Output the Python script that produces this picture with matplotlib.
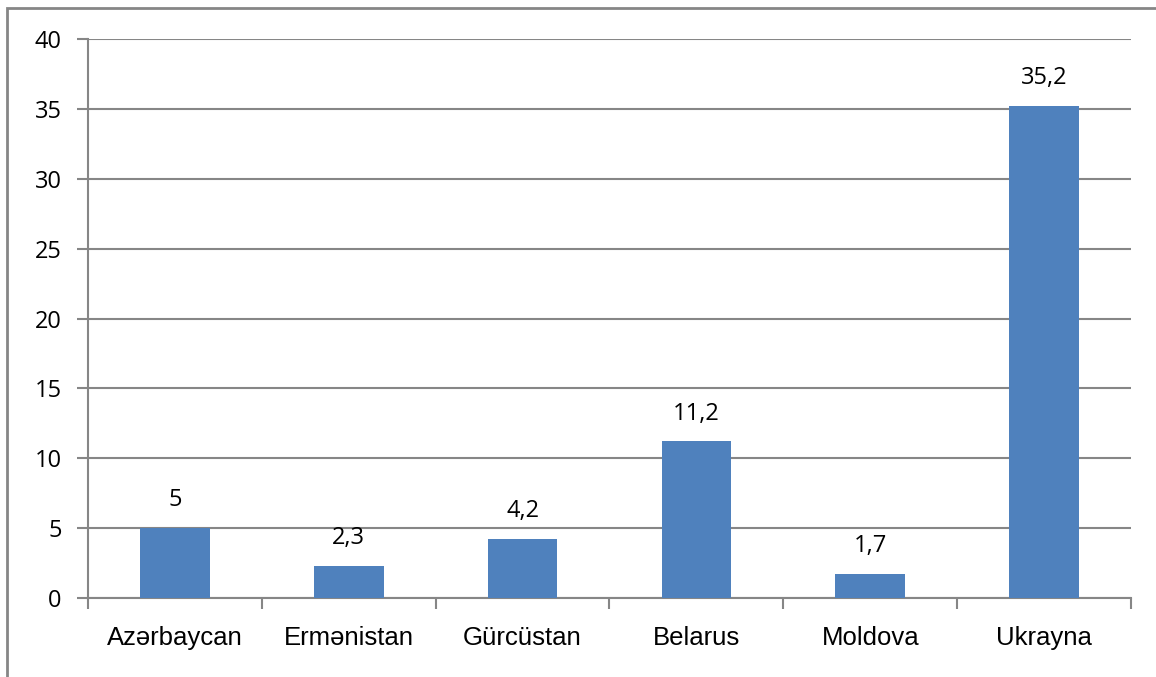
import matplotlib.pyplot as plt
import matplotlib.patches as mpatches
import numpy as np

countries = ["Azərbaycan", "Ermənistan", "Gürcüstan", "Belarus", "Moldova", "Ukrayna"]
values = [5, 2.3, 4.2, 11.2, 1.7, 35.2]
value_labels = ["5", "2,3", "4,2", "11,2", "1,7", "35,2"]
yticks = [0, 5, 10, 15, 20, 25, 30, 35, 40]

grey = "#868686"
W, H = 1156, 677

fig = plt.figure(figsize=(W / 100, H / 100), dpi=100)
ax = fig.add_axes([88 / W, 1 - 598 / H, (1131 - 88) / W, (598 - 39) / H])

# outer chart frame (right and bottom run off the image)
fig.patches.append(mpatches.Rectangle((7 / W, -0.05), 1.1, 1 - 8 / H + 0.05,
                                      transform=fig.transFigure, fill=False,
                                      edgecolor=grey, linewidth=2))

x = np.arange(len(countries))
ax.bar(x, values, width=0.4, color="#4F81BD", zorder=3)

for xi, v, lab in zip(x, values, value_labels):
    ax.text(xi, v + 2.0, lab, ha="center", va="center", fontsize=17,
            family="Open Sans", color="black")

ax.set_xlim(-0.5, len(countries) - 0.5)
ax.set_ylim(0, 40)
ax.set_yticks(yticks)
ax.set_yticklabels([str(t) for t in yticks], family="Open Sans", fontsize=17)
ax.yaxis.grid(True, color=grey, linewidth=1.5, zorder=0)

ax.set_xticks(x)
ax.set_xticklabels(countries, family="Liberation Sans", fontsize=18.5)
ax.set_xticks(np.arange(-0.5, len(countries)), minor=True)
ax.tick_params(axis="x", which="major", length=0, pad=20)
ax.tick_params(axis="x", which="minor", length=8, width=1.5, color=grey)
ax.tick_params(axis="y", length=8, width=1.5, color=grey, pad=11)

for side in ["top", "right"]:
    ax.spines[side].set_visible(False)
for side in ["left", "bottom"]:
    ax.spines[side].set_color(grey)
    ax.spines[side].set_linewidth(1.5)

fig.savefig("out.png", dpi=100)
